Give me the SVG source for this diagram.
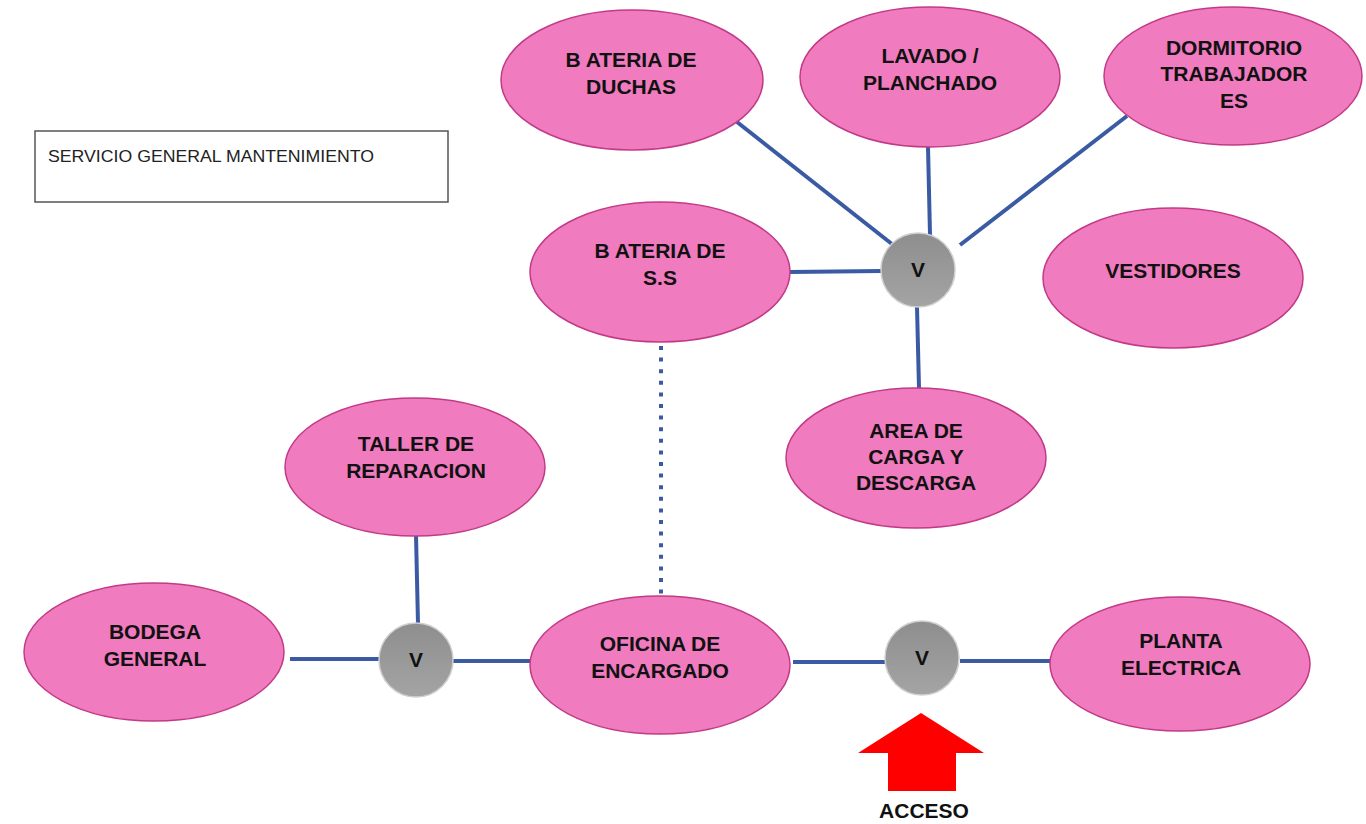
<svg xmlns="http://www.w3.org/2000/svg" width="1366" height="824" viewBox="0 0 1366 824">
<defs>
<linearGradient id="gv" x1="0" y1="0" x2="0" y2="1">
<stop offset="0" stop-color="#8e8e8e"/>
<stop offset="1" stop-color="#a4a4a4"/>
</linearGradient>
</defs>
<style>
.n{fill:#f07bbf;stroke:#c23a86;stroke-width:1.5}
.v{fill:url(#gv);stroke:#cfcfcf;stroke-width:1.5}
.t{font-family:"Liberation Sans",Arial,sans-serif;font-weight:bold;font-size:21px;fill:#111;text-anchor:middle}
.c{stroke:#3a5ba3;stroke-width:4;fill:none}
.d{stroke:#3a5ba3;stroke-width:4;fill:none;stroke-dasharray:4 7.6}
</style>
<rect width="1366" height="824" fill="#ffffff"/>
<g id="title">
<rect x="35" y="131" width="413" height="71" fill="#fff" stroke="#555" stroke-width="1.5"/>
<text x="48" y="162" font-family="'Liberation Sans',Arial,sans-serif" font-size="17" fill="#222" textLength="326" lengthAdjust="spacingAndGlyphs">SERVICIO GENERAL MANTENIMIENTO</text>
</g>
<g id="connectors">
<line class="c" x1="737" y1="122" x2="897" y2="248"/>
<line class="c" x1="928" y1="147" x2="930" y2="235"/>
<line class="c" x1="1127" y1="116" x2="960" y2="245"/>
<line class="c" x1="790" y1="272" x2="881" y2="271"/>
<line class="c" x1="917" y1="307" x2="919" y2="388"/>
<line class="c" x1="416" y1="535" x2="418" y2="624"/>
<line class="c" x1="290" y1="659" x2="380" y2="659"/>
<line class="c" x1="452" y1="661" x2="530" y2="661"/>
<line class="c" x1="793" y1="662" x2="885" y2="662"/>
<line class="c" x1="960" y1="661" x2="1050" y2="661"/>
<line class="d" x1="661" y1="346" x2="661" y2="596"/>
</g>
<g id="duchas"><ellipse class="n" cx="632" cy="80" rx="131" ry="70"/><text class="t" x="631" y="67">B ATERIA DE</text><text class="t" x="631" y="94">DUCHAS</text></g>
<g id="lavado"><ellipse class="n" cx="930" cy="77" rx="130" ry="70"/><text class="t" x="930" y="63">LAVADO /</text><text class="t" x="930" y="90">PLANCHADO</text></g>
<g id="dormitorio"><ellipse class="n" cx="1233" cy="76" rx="129" ry="69"/><text class="t" x="1234" y="55">DORMITORIO</text><text class="t" x="1234" y="81">TRABAJADOR</text><text class="t" x="1234" y="108">ES</text></g>
<g id="vestidores"><ellipse class="n" cx="1173" cy="278" rx="130" ry="70"/><text class="t" x="1173" y="278">VESTIDORES</text></g>
<g id="bateria-ss"><ellipse class="n" cx="660" cy="272" rx="130" ry="70"/><text class="t" x="660" y="258">B ATERIA DE</text><text class="t" x="660" y="285">S.S</text></g>
<g id="v-top"><circle class="v" cx="918" cy="270" r="37"/><text class="t" x="918" y="277" font-size="20">V</text></g>
<g id="carga"><ellipse class="n" cx="916" cy="458" rx="130" ry="70"/><text class="t" x="916" y="438">AREA DE</text><text class="t" x="916" y="464">CARGA Y</text><text class="t" x="916" y="490">DESCARGA</text></g>
<g id="taller"><ellipse class="n" cx="415" cy="467" rx="130" ry="69"/><text class="t" x="416" y="451">TALLER DE</text><text class="t" x="416" y="478">REPARACION</text></g>
<g id="bodega"><ellipse class="n" cx="154" cy="652" rx="130" ry="69"/><text class="t" x="155" y="639">BODEGA</text><text class="t" x="155" y="666">GENERAL</text></g>
<g id="v-left"><circle class="v" cx="416" cy="660" r="37"/><text class="t" x="416" y="667" font-size="20">V</text></g>
<g id="oficina"><ellipse class="n" cx="660" cy="665" rx="130" ry="69"/><text class="t" x="660" y="651">OFICINA DE</text><text class="t" x="660" y="678">ENCARGADO</text></g>
<g id="v-right"><circle class="v" cx="922" cy="658" r="37"/><text class="t" x="922" y="665" font-size="20">V</text></g>
<g id="planta"><ellipse class="n" cx="1180" cy="664" rx="130" ry="67"/><text class="t" x="1181" y="648">PLANTA</text><text class="t" x="1181" y="675">ELECTRICA</text></g>
<g id="acceso">
<polygon points="921,713 984,753 956,753 956,791 888,791 888,753 858,753" fill="#ff0000"/>
<text class="t" x="924" y="818" font-size="20">ACCESO</text>
</g>
</svg>
